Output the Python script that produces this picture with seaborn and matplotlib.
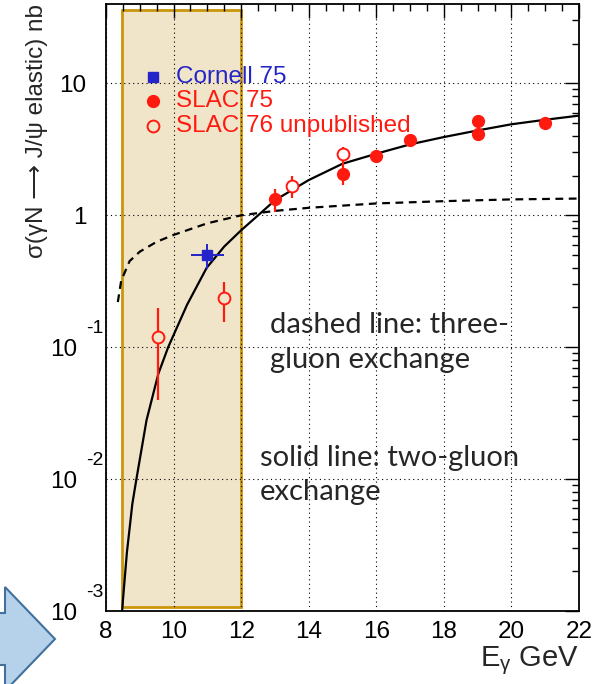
import numpy as np
import pandas as pd
import matplotlib
matplotlib.use("Agg")
import matplotlib.pyplot as plt
import seaborn as sns
from matplotlib.patches import Rectangle, Polygon
from matplotlib.ticker import FixedLocator, MultipleLocator, FuncFormatter, NullFormatter

# ---------------- data ----------------
cornell_E = [11.0]
cornell_sig = [0.50]
cornell_lo = [0.39]
cornell_hi = [0.61]
cornell_xerr = [0.49]

slac75_E = [13.0, 15.0, 16.0, 17.0, 19.0, 19.0, 21.0]
slac75_sig = [1.32, 2.05, 2.83, 3.74, 5.18, 4.11, 5.04]
slac75_lo = [1.06, 1.69, 2.55, 3.40, 4.75, 3.78, 4.65]
slac75_hi = [1.57, 2.46, 3.15, 4.16, 5.60, 4.45, 5.45]

slac76_E = [9.55, 11.5, 13.5, 15.0]
slac76_sig = [0.12, 0.235, 1.67, 2.90]
slac76_lo = [0.040, 0.155, 1.36, 2.46]
slac76_hi = [0.197, 0.31, 1.97, 3.29]

two_gluon_E = [8.45, 8.5, 8.62, 8.78, 8.9, 9.2, 9.55, 9.84, 10.4, 10.98, 11.5, 12.0,
               12.56, 13.0, 14.0, 15.0, 16.0, 17.0, 18.0, 19.0, 20.0, 21.0, 22.0]
two_gluon_sig = [0.0008, 0.0012, 0.0028, 0.0065, 0.01, 0.028, 0.063, 0.10, 0.21, 0.40, 0.58,
                 0.77, 1.03, 1.30, 1.85, 2.46, 2.93, 3.45, 3.92, 4.40, 4.90, 5.30, 5.70]

three_gluon_E = [8.35, 8.45, 8.7, 9.0, 9.5, 10.0, 11.0, 12.0, 13.0, 14.0, 16.0, 18.0, 20.0, 22.0]
three_gluon_sig = [0.22, 0.32, 0.45, 0.53, 0.63, 0.71, 0.87, 1.00, 1.08, 1.14, 1.23, 1.28, 1.32, 1.34]

box_E = [8.46, 12.0]
box_sig = [1.07e-3, 36.0]

legend_labels = ["Cornell 75", "SLAC 75", "SLAC 76 unpublished"]
note_dashed = ["dashed line: three-", "gluon exchange"]
note_solid = ["solid line: two-gluon", "exchange"]
x_ticks = [8, 10, 12, 14, 16, 18, 20, 22]
y_ticks = [1e-3, 1e-2, 1e-1, 1, 10]
y_tick_base = ["10", "10", "10", "1", "10"]
y_tick_exp = ["-3", "-2", "-1", "", ""]

# ---------------- style ----------------
sns.set_theme(style="white")
plt.rcParams["font.family"] = ["Liberation Sans", "DejaVu Sans"]
plt.rcParams["mathtext.fontset"] = "custom"
plt.rcParams["mathtext.rm"] = "Liberation Sans"
plt.rcParams["mathtext.it"] = "Liberation Sans:italic"
plt.rcParams["mathtext.sf"] = "Liberation Sans"

RED = "#ff1a10"
BLUE = "#2424c8"
BOXFILL = "#f1e5c9"
BOXEDGE = "#c9960c"

fig = plt.figure(figsize=(6.07, 6.84), dpi=100)
ax = fig.add_axes([106 / 607, 1 - 611 / 684, 473 / 607, 607 / 684])
ax.set_facecolor("white")

ax.set_yscale("log")
ax.set_xlim(8, 22)
ax.set_ylim(1e-3, 40)

# shaded box
ax.add_patch(Rectangle((box_E[0], box_sig[0]), box_E[1] - box_E[0], box_sig[1] - box_sig[0],
                       facecolor=BOXFILL, edgecolor=BOXEDGE, lw=2.0, zorder=0.3))

# curves
df2 = pd.DataFrame({"E": two_gluon_E, "sig": two_gluon_sig})
df3 = pd.DataFrame({"E": three_gluon_E, "sig": three_gluon_sig})
sns.lineplot(data=df2, x="E", y="sig", ax=ax, color="black", lw=1.6, sort=False, zorder=3)
sns.lineplot(data=df3, x="E", y="sig", ax=ax, color="black", lw=1.6, sort=False,
             dashes=False, zorder=3, linestyle=(0, (3.5, 2.5)))

# data points
def yerr(sig, lo, hi):
    s = np.array(sig); return [s - np.array(lo), np.array(hi) - s]

ax.errorbar(cornell_E, cornell_sig, yerr=yerr(cornell_sig, cornell_lo, cornell_hi),
            xerr=cornell_xerr, fmt="s", color=BLUE, ms=7, elinewidth=1.4, capsize=0, zorder=5)
ax.errorbar(slac75_E, slac75_sig, yerr=yerr(slac75_sig, slac75_lo, slac75_hi),
            fmt="o", color=RED, ms=8.5, elinewidth=1.6, capsize=0, zorder=5)
E76 = np.array(slac76_E)
inbox = (E76 >= box_E[0]) & (E76 <= box_E[1])
for mask, face in [(inbox, BOXFILL), (~inbox, "white")]:
    s = np.array(slac76_sig)[mask]
    ax.errorbar(E76[mask], s,
                yerr=[s - np.array(slac76_lo)[mask], np.array(slac76_hi)[mask] - s],
                fmt="o", color=RED, mfc=face, mec=RED, mew=1.4, ms=8.5,
                elinewidth=1.6, capsize=0, zorder=5)

# axes styling
ax.xaxis.set_major_locator(FixedLocator(x_ticks))
ax.xaxis.set_minor_locator(MultipleLocator(0.5))
ax.yaxis.set_major_locator(FixedLocator(y_ticks))
ax.yaxis.set_major_formatter(FuncFormatter(lambda v, p: y_tick_base[y_ticks.index(v)]
                                           if v in y_ticks else ""))
minor_y = [m * 10.0 ** e for e in range(-3, 2) for m in range(2, 10) if m * 10.0 ** e < 40]
ax.yaxis.set_minor_locator(FixedLocator(minor_y))
ax.yaxis.set_minor_formatter(NullFormatter())
ax.tick_params(which="both", direction="in", top=True, right=True, color="black",
               labelsize=17.5, labelcolor="black")
ax.tick_params(which="major", length=10, width=1.0)
ax.tick_params(which="minor", length=5, width=1.0)
ax.tick_params(axis="x", which="major", pad=7)
ax.tick_params(axis="y", which="major", pad=14)
for t, ex in zip(ax.yaxis.get_major_ticks(), y_tick_exp):
    t.set_pad(20.5 if ex else 14)
for sp in ax.spines.values():
    sp.set_color("black")
    sp.set_linewidth(1.3)
ax.grid(which="major", color="black", linestyle=(0, (1, 3)), lw=0.8)
ax.set_axisbelow(True)

# exponents of the y tick labels (ROOT style)
for v, ex in zip(y_ticks, y_tick_exp):
    if ex:
        ax.annotate(ex, xy=(0, v), xycoords=("axes fraction", "data"),
                    xytext=(-2.0, 13.5), textcoords="offset points",
                    ha="right", va="center", fontsize=14, color="black",
                    annotation_clip=False)

ax.set_xlabel("E$_{\\mathrm{\\gamma}}$ GeV", fontsize=21, loc="right", labelpad=1)
ax.set_ylabel("σ(γN ⟶ J/ψ elastic) nb", fontsize=17.5, loc="top")
ax.yaxis.set_label_coords((48 - 106) / 473, 1.0)

# legend (manual, ROOT style)
leg_y = [0.880, 0.841, 0.799]
ax.plot([0.0987], [leg_y[0]], "s", color=BLUE, ms=7, transform=ax.transAxes, zorder=6)
ax.plot([0.0987], [leg_y[1]], "o", color=RED, ms=8.5, transform=ax.transAxes, zorder=6)
ax.plot([0.0987], [leg_y[2]], "o", color=RED, mfc=BOXFILL, mew=1.4, ms=8.5,
        transform=ax.transAxes, zorder=6)
for yy, lab, col in zip(leg_y, legend_labels, [BLUE, RED, RED]):
    ax.text(0.148, yy, lab, transform=ax.transAxes, color=col, fontsize=17.5,
            va="center", ha="left", zorder=6)

# notes
note_font = ["Lato", "DejaVu Sans"]
nfs = 21
ax.text((270 - 106) / 473, (611 - 333) / 607, note_dashed[0], transform=ax.transAxes,
        fontsize=nfs, family=note_font, va="baseline", ha="left")
ax.text((270 - 106) / 473, (611 - 368) / 607, note_dashed[1], transform=ax.transAxes,
        fontsize=nfs, family=note_font, va="baseline", ha="left")
ax.text((260 - 106) / 473, (611 - 466) / 607, note_solid[0], transform=ax.transAxes,
        fontsize=nfs, family=note_font, va="baseline", ha="left")
ax.text((260 - 106) / 473, (611 - 500) / 607, note_solid[1], transform=ax.transAxes,
        fontsize=nfs, family=note_font, va="baseline", ha="left")

# decorative arrow (bottom-left)
arrow_px = [(-5, 613), (5, 613), (5, 587), (55, 639), (5, 691), (5, 665), (-5, 665)]
arrow_fig = [(x / 607, 1 - y / 684) for x, y in arrow_px]
fig.patches.append(Polygon(arrow_fig, closed=True, transform=fig.transFigure,
                           facecolor="#b6d1ea", edgecolor="#41719c", lw=1.5))

fig.savefig("out.png", dpi=100)
